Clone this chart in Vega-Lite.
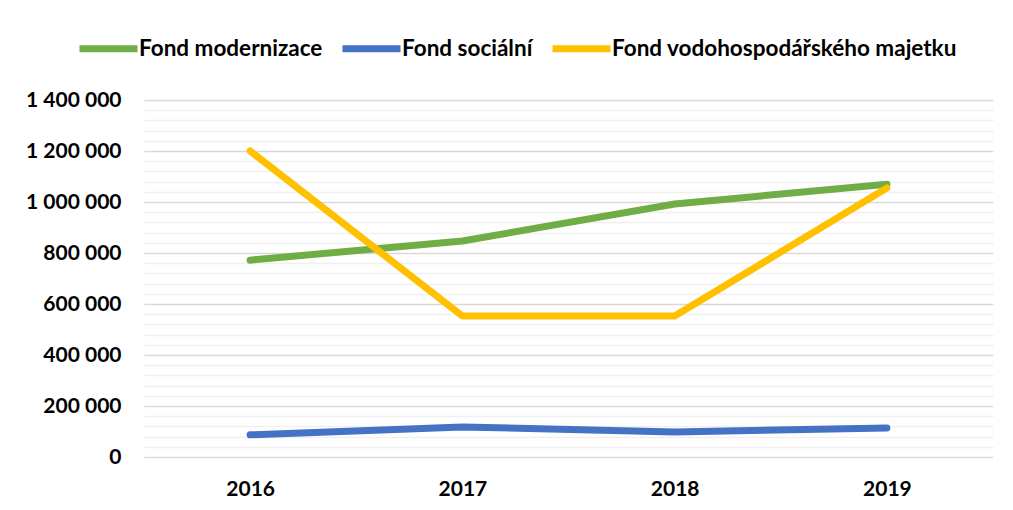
{
  "$schema": "https://vega.github.io/schema/vega-lite/v6.json",
  "width": 849,
  "height": 357,
  "autosize": {"type": "none"},
  "padding": {"left": 144, "top": 100, "right": 20, "bottom": 53},
  "background": "white",
  "data": {
    "values": [
      {"year": "2016", "fund": "Fond modernizace", "value": 772000},
      {"year": "2017", "fund": "Fond modernizace", "value": 847000},
      {"year": "2018", "fund": "Fond modernizace", "value": 992000},
      {"year": "2019", "fund": "Fond modernizace", "value": 1070000},
      {"year": "2016", "fund": "Fond sociální", "value": 87000},
      {"year": "2017", "fund": "Fond sociální", "value": 118000},
      {"year": "2018", "fund": "Fond sociální", "value": 98000},
      {"year": "2019", "fund": "Fond sociální", "value": 114000},
      {"year": "2016", "fund": "Fond vodohospodářského majetku", "value": 1200000},
      {"year": "2017", "fund": "Fond vodohospodářského majetku", "value": 553000},
      {"year": "2018", "fund": "Fond vodohospodářského majetku", "value": 553000},
      {"year": "2019", "fund": "Fond vodohospodářského majetku", "value": 1055000}
    ]
  },
  "mark": {"type": "line", "strokeWidth": 7, "strokeCap": "round", "strokeJoin": "round"},
  "encoding": {
    "x": {
      "field": "year",
      "type": "ordinal",
      "scale": {"type": "point", "padding": 0.5},
      "axis": {
        "title": null,
        "labelAngle": 0,
        "ticks": false,
        "domain": false,
        "grid": false,
        "labelPadding": 21,
        "labelFont": "Lato",
        "labelFontWeight": "bold",
        "labelFontSize": 21,
        "labelColor": "#000000"
      }
    },
    "y": {
      "field": "value",
      "type": "quantitative",
      "scale": {"domain": [0, 1400000], "nice": false},
      "axis": {
        "title": null,
        "values": [0, 40000, 80000, 120000, 160000, 200000, 240000, 280000, 320000, 360000, 400000, 440000, 480000, 520000, 560000, 600000, 640000, 680000, 720000, 760000, 800000, 840000, 880000, 920000, 960000, 1000000, 1040000, 1080000, 1120000, 1160000, 1200000, 1240000, 1280000, 1320000, 1360000, 1400000],
        "format": ",d",
        "labelExpr": "datum.value % 200000 === 0 ? datum.label : ''",
        "ticks": false,
        "domain": false,
        "grid": true,
        "gridColor": {"condition": {"test": "datum.value % 200000 === 0", "value": "#D9D9D9"}, "value": "#F0F0F0"},
        "gridWidth": 1.5,
        "labelPadding": 23,
        "labelFont": "Lato",
        "labelFontWeight": "bold",
        "labelFontSize": 21,
        "labelColor": "#000000"
      }
    },
    "color": {
      "field": "fund",
      "type": "nominal",
      "scale": {
        "domain": ["Fond modernizace", "Fond sociální", "Fond vodohospodářského majetku"],
        "range": ["#70AD47", "#4472C4", "#FFC000"]
      },
      "legend": {
        "title": null,
        "orient": "none",
        "direction": "horizontal",
        "legendX": -68,
        "legendY": -84,
        "symbolType": "stroke",
        "symbolSize": 3364,
        "symbolStrokeWidth": 7,
        "labelOffset": -2,
        "labelLimit": 0,
        "columnPadding": 5,
        "labelFont": "Lato",
        "labelFontWeight": "bold",
        "labelFontSize": 22.5,
        "labelColor": "#000000"
      }
    }
  },
  "config": {
    "view": {"stroke": null},
    "locale": {
      "number": {"decimal": ",", "thousands": " ", "grouping": [3], "currency": ["", " Kč"]}
    }
  }
}
